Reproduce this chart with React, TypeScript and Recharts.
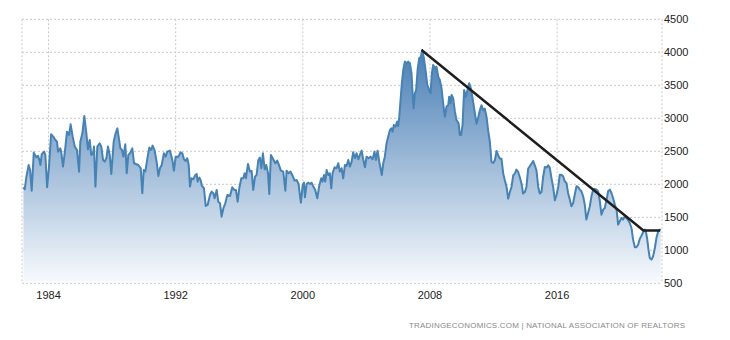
import React from 'react';
import { ComposedChart, Area, Line, XAxis, YAxis, CartesianGrid } from 'recharts';

const dates: number[] = [
  1982.42, 1982.50, 1982.61, 1982.75, 1982.84, 1982.94, 1983.07, 1983.23, 1983.34, 1983.42,
  1983.49, 1983.57, 1983.72, 1983.80, 1983.91, 1984.03, 1984.16, 1984.30, 1984.43, 1984.53,
  1984.60, 1984.74, 1984.81, 1984.91, 1985.04, 1985.16, 1985.29, 1985.39, 1985.52, 1985.65,
  1985.79, 1985.92, 1986.00, 1986.13, 1986.25, 1986.38, 1986.48, 1986.59, 1986.69, 1986.80,
  1986.86, 1986.95, 1987.07, 1987.22, 1987.32, 1987.43, 1987.53, 1987.64, 1987.74, 1987.85,
  1987.95, 1988.10, 1988.22, 1988.33,
  1988.41, 1988.52, 1988.62, 1988.71, 1988.83, 1988.92, 1989.02, 1989.13, 1989.27, 1989.38,
  1989.50, 1989.65, 1989.80, 1989.90, 1989.99, 1990.09, 1990.22, 1990.34, 1990.45, 1990.55,
  1990.68, 1990.80, 1990.91, 1991.01, 1991.12, 1991.26, 1991.37, 1991.47, 1991.64, 1991.79,
  1991.89, 1992.00, 1992.17, 1992.31, 1992.42, 1992.52, 1992.63, 1992.73, 1992.82, 1992.90,
  1993.00, 1993.11, 1993.24, 1993.32, 1993.38, 1993.49, 1993.57, 1993.65, 1993.78, 1993.89,
  1994.01, 1994.16,
  1994.26, 1994.37, 1994.45, 1994.58, 1994.68, 1994.79, 1994.89, 1995.00, 1995.12, 1995.25,
  1995.42, 1995.56, 1995.69, 1995.79, 1995.90, 1996.00, 1996.13, 1996.25, 1996.34, 1996.42,
  1996.55, 1996.67, 1996.78, 1996.88, 1996.99, 1997.09, 1997.20, 1997.30, 1997.39, 1997.49,
  1997.60, 1997.70, 1997.81, 1997.89, 1997.99, 1998.14, 1998.27, 1998.39, 1998.52, 1998.62,
  1998.77, 1998.90, 1998.98, 1999.10, 1999.23, 1999.36, 1999.48, 1999.61, 1999.73,
  1999.78, 1999.88, 1999.99, 2000.07, 2000.13, 2000.24, 2000.34, 2000.45, 2000.55, 2000.66,
  2000.78, 2000.91, 2001.03, 2001.16, 2001.24, 2001.33, 2001.41, 2001.50, 2001.60, 2001.70,
  2001.79, 2001.87, 2002.00, 2002.12, 2002.23, 2002.33, 2002.44, 2002.54, 2002.65, 2002.75,
  2002.86, 2002.96, 2003.07, 2003.17, 2003.28, 2003.38, 2003.49, 2003.59, 2003.70, 2003.80,
  2003.91, 2004.01, 2004.14, 2004.26, 2004.39, 2004.51, 2004.60, 2004.70, 2004.81, 2004.89,
  2004.97,
  2005.06, 2005.16, 2005.27, 2005.37, 2005.48, 2005.58, 2005.65, 2005.73, 2005.83, 2005.94,
  2006.00, 2006.07, 2006.15, 2006.23, 2006.32, 2006.42, 2006.53, 2006.63, 2006.74, 2006.84,
  2006.90, 2006.97, 2007.05, 2007.13, 2007.22, 2007.32, 2007.43, 2007.51, 2007.62, 2007.72,
  2007.83, 2007.95, 2008.04, 2008.12, 2008.20, 2008.31, 2008.41, 2008.52, 2008.62, 2008.73,
  2008.83, 2008.94, 2009.04, 2009.15, 2009.21, 2009.29, 2009.36, 2009.46, 2009.57, 2009.67,
  2009.80, 2009.88, 2009.96, 2010.05, 2010.15, 2010.26, 2010.36, 2010.47, 2010.58, 2010.70,
  2010.83, 2010.93, 2011.04, 2011.14,
  2011.24, 2011.35, 2011.45, 2011.56, 2011.66, 2011.77, 2011.87, 2011.98, 2012.08, 2012.19,
  2012.29, 2012.40, 2012.50, 2012.61, 2012.71, 2012.82, 2012.92, 2013.03, 2013.13, 2013.24,
  2013.34, 2013.44, 2013.55, 2013.65, 2013.76, 2013.86, 2013.97, 2014.07, 2014.18, 2014.28,
  2014.39, 2014.49, 2014.60, 2014.70, 2014.81, 2014.91, 2015.02, 2015.12, 2015.23, 2015.33,
  2015.44, 2015.54, 2015.65, 2015.75, 2015.86, 2015.96, 2016.07,
  2016.17, 2016.27, 2016.38, 2016.48, 2016.59, 2016.69, 2016.80, 2016.90, 2017.01, 2017.11,
  2017.22, 2017.32, 2017.43, 2017.53, 2017.64, 2017.74, 2017.84, 2017.95, 2018.06, 2018.16,
  2018.27, 2018.37, 2018.48, 2018.58, 2018.69, 2018.79, 2018.90, 2019.00, 2019.11, 2019.21,
  2019.32, 2019.42, 2019.52, 2019.63, 2019.74, 2019.84, 2019.94, 2020.05, 2020.15, 2020.26,
  2020.36, 2020.47, 2020.57, 2020.68, 2020.78, 2020.89, 2020.99, 2021.10, 2021.20, 2021.31,
  2021.41, 2021.52, 2021.58, 2021.66, 2021.75, 2021.83, 2021.94, 2022.04, 2022.15, 2022.25,
  2022.36, 2022.46, 2022.52,
];

const inventory: number[] = [
  1955, 1925, 2116, 2293, 2217, 1904, 2480, 2410, 2430, 2370,
  2293, 2455, 2495, 2445, 1955, 2268, 2758, 2722, 2672, 2646,
  2495, 2545, 2470, 2268, 2520, 2798, 2747, 2909, 2722, 2571,
  2520, 2192, 2646, 2773, 3035, 2773, 2530, 2672, 2445, 2470,
  2571, 1965, 2571, 2621, 2571, 2370, 2343, 2394, 2571, 2445,
  2157, 2646, 2773, 2848,
  2722, 2545, 2520, 2419, 2606, 2167, 2445, 2470, 2545, 2318,
  2308, 2293, 2242, 1864, 2217, 2192, 2394, 2556, 2520, 2586,
  2505, 2343, 2126, 2242, 2293, 2470, 2419, 2495, 2510, 2369,
  2207, 2419, 2419, 2485, 2470, 2379, 2354, 2394, 2293, 1965,
  2091, 2076, 2141, 2157, 2040, 2101, 2066, 1975, 1940, 1672,
  1687, 1838,
  1889, 1864, 1788, 1914, 1737, 1712, 1510, 1637, 1712, 1838,
  1823, 1955, 1914, 1914, 1737, 1939, 2091, 2091, 2167, 2091,
  2308, 2192, 2202, 1914, 2116, 2141, 2369, 2404, 2243, 2470,
  2227, 2293, 2167, 1854, 2444, 2379, 2318, 2359, 2278, 2207,
  2192, 1904, 2207, 2167, 2192, 2126, 2056, 2066, 2005,
  1904, 1722, 1990, 2025, 1803, 2005, 2025, 2005, 2025, 1965,
  1914, 1788, 1975, 2091, 2040, 2141, 2040, 2217, 2141, 2167,
  1939, 2167, 2258, 2243, 2318, 2192, 2243, 2091, 2293, 2278,
  2369, 2268, 2343, 2485, 2394, 2470, 2379, 2444, 2510, 2379,
  2258, 2419, 2394, 2419, 2379, 2495, 2369, 2510, 2343, 2243,
  2141,
  2318, 2419, 2621, 2722, 2823, 2849, 2798, 2899, 2874, 2950,
  2884, 3025, 3278, 3530, 3732, 3859, 3833, 3859, 3833, 3682,
  3404, 3152, 3379, 3429, 3732, 3909, 3934, 4035, 3909, 3732,
  3505, 3429, 3379, 3682, 3808, 3758, 3783, 3631, 3581, 3455,
  3227, 3025, 3177, 3202, 3328, 3227, 3354, 3303, 3101, 2975,
  2924, 2748, 2748, 2899, 3429, 3328, 3429, 3530, 3450, 3273,
  3071, 2919, 3020, 3121,
  3197, 3121, 3146, 3020, 2818, 2641, 2339, 2323, 2364, 2505,
  2440, 2389, 2389, 2162, 2061, 1960, 1783, 1884, 1960, 2137,
  2162, 2222, 2187, 2111, 2010, 1859, 1884, 1960, 2238, 2273,
  2313, 2354, 2288, 2212, 1960, 1859, 1884, 2111, 2263, 2253,
  2288, 2253, 2086, 1960, 1758, 1834, 1960,
  2146, 2146, 2121, 2045, 2020, 1869, 1768, 1667, 1717, 1843,
  1970, 1960, 1919, 1894, 1818, 1692, 1465, 1566, 1667, 1818,
  1919, 1929, 1919, 1894, 1743, 1540, 1616, 1641, 1768, 1894,
  1919, 1869, 1793, 1692, 1616, 1389, 1439, 1490, 1465, 1515,
  1490, 1455, 1414, 1338, 1162, 1046, 1046, 1086, 1172, 1222,
  1273, 1313, 1288, 1187, 1010, 884, 859, 909, 1035, 1187,
  1288, 1313, 1303,
];

const trendDates: number[] = [2007.47, 2021.43, 2022.48];
const trendValues: number[] = [4035, 1300, 1300];

const xTicks: number[] = [1984, 1992, 2000, 2008, 2016];
const yTicks: number[] = [500, 1000, 1500, 2000, 2500, 3000, 3500, 4000, 4500];

const sourceText = 'TRADINGECONOMICS.COM | NATIONAL ASSOCIATION OF REALTORS';

const seriesData = dates.map((year, i) => ({ year, value: inventory[i] }));
const trendData = trendDates.map((year, i) => ({ year, trend: trendValues[i] }));

export default function App() {
  return (
    <div style={{ position: 'absolute', left: 0, top: 0, width: 730, height: 340, background: '#fff' }}>
      <ComposedChart
        width={730}
        height={340}
        data={seriesData}
        margin={{ top: 19.3, right: 0, bottom: 0, left: 22 }}
      >
        <defs>
          <linearGradient id="invFill" x1="0" y1="0" x2="0" y2="1">
            <stop offset="0%" stopColor="#4a7fb6" stopOpacity={1} />
            <stop offset="100%" stopColor="#f8fafd" stopOpacity={1} />
          </linearGradient>
        </defs>
        <CartesianGrid stroke="#c8c8c8" strokeDasharray="2 2" />
        <XAxis
          type="number"
          dataKey="year"
          domain={[1982.33, 2022.6]}
          ticks={xTicks}
          allowDataOverflow
          axisLine={false}
          tickLine={false}
          height={56.7}
          tick={{ fill: '#222', fontSize: 11, fontFamily: 'Liberation Sans, Arial, sans-serif' }}
        />
        <YAxis
          orientation="right"
          type="number"
          domain={[500, 4500]}
          ticks={yTicks}
          allowDataOverflow
          axisLine={false}
          tickLine={false}
          tickSize={0}
          tickMargin={2}
          width={68}
          tick={{ fill: '#222', fontSize: 11, fontFamily: 'Liberation Sans, Arial, sans-serif', textAnchor: 'start' }}
        />
        <Area
          type="linear"
          dataKey="value"
          stroke="#4682b4"
          strokeWidth={2}
          strokeLinejoin="round"
          fill="url(#invFill)"
          fillOpacity={1}
          dot={false}
          activeDot={false}
          isAnimationActive={false}
        />
        <Line
          data={trendData}
          type="linear"
          dataKey="trend"
          stroke="#1e1e1e"
          strokeWidth={2.5}
          dot={false}
          activeDot={false}
          isAnimationActive={false}
        />
      </ComposedChart>
      <svg width={730} height={340} style={{ position: 'absolute', left: 0, top: 0, pointerEvents: 'none' }}>
        <text
          x={409}
          y={328}
          fontSize={8}
          fill="#8a8a8a"
          fontFamily="Liberation Sans, Arial, sans-serif"
          textLength={276}
          lengthAdjust="spacing"
        >
          {sourceText}
        </text>
      </svg>
    </div>
  );
}
